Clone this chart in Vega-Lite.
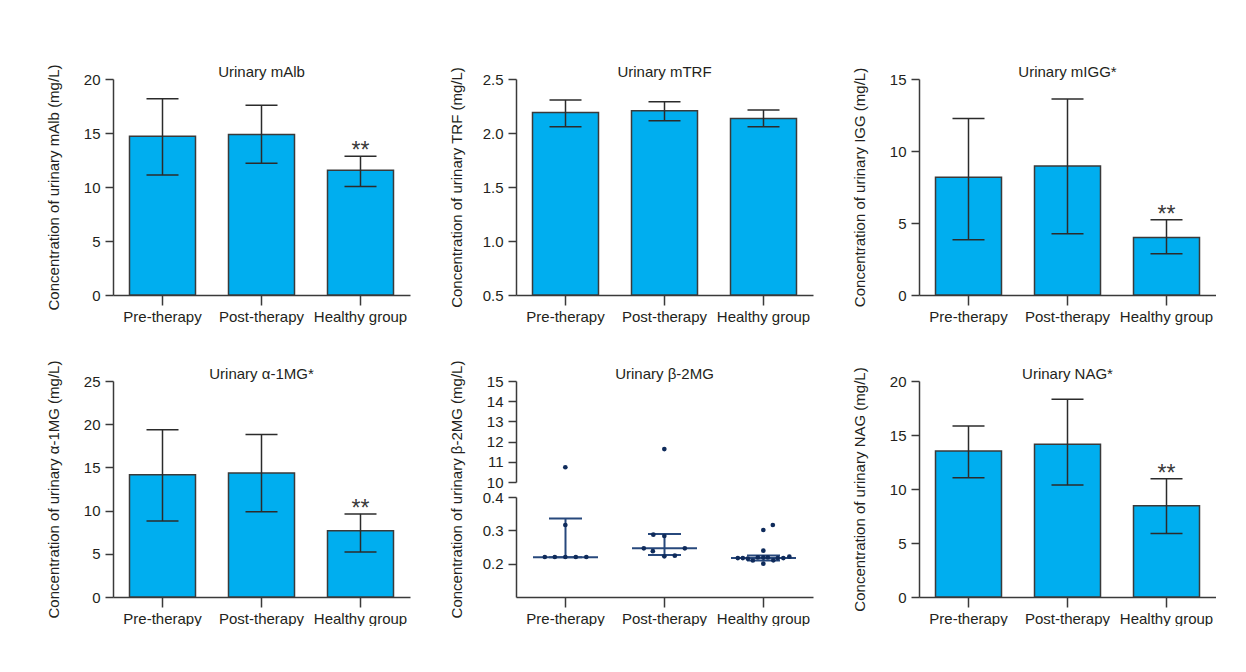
{
  "$schema": "https://vega.github.io/schema/vega-lite/v6.json",
  "padding": {"left": 45, "top": 64, "right": 0, "bottom": 0},
  "columns": 3,
  "spacing": {"row": 86, "column": 106},
  "bounds": "flush",
  "datasets": {
    "malb": [
      {"group": "Pre-therapy", "mean": 14.7, "lo": 11.1, "hi": 18.17, "sig": false},
      {"group": "Post-therapy", "mean": 14.86, "lo": 12.2, "hi": 17.58, "sig": false},
      {"group": "Healthy group", "mean": 11.56, "lo": 10.05, "hi": 12.84, "sig": true}
    ],
    "mtrf": [
      {"group": "Pre-therapy", "mean": 2.19, "lo": 2.058, "hi": 2.306, "sig": false},
      {"group": "Post-therapy", "mean": 2.206, "lo": 2.113, "hi": 2.29, "sig": false},
      {"group": "Healthy group", "mean": 2.135, "lo": 2.058, "hi": 2.213, "sig": false}
    ],
    "migg": [
      {"group": "Pre-therapy", "mean": 8.17, "lo": 3.83, "hi": 12.26, "sig": false},
      {"group": "Post-therapy", "mean": 8.96, "lo": 4.25, "hi": 13.61, "sig": false},
      {"group": "Healthy group", "mean": 3.99, "lo": 2.86, "hi": 5.23, "sig": true}
    ],
    "a1mg": [
      {"group": "Pre-therapy", "mean": 14.15, "lo": 8.8, "hi": 19.35, "sig": false},
      {"group": "Post-therapy", "mean": 14.35, "lo": 9.88, "hi": 18.8, "sig": false},
      {"group": "Healthy group", "mean": 7.67, "lo": 5.2, "hi": 9.62, "sig": true}
    ],
    "nag": [
      {"group": "Pre-therapy", "mean": 13.51, "lo": 11.04, "hi": 15.83, "sig": false},
      {"group": "Post-therapy", "mean": 14.14, "lo": 10.36, "hi": 18.31, "sig": false},
      {"group": "Healthy group", "mean": 8.44, "lo": 5.88, "hi": 10.95, "sig": true}
    ],
    "b2mg_stats": [
      {"group": "Pre-therapy", "median": 0.219, "q1": 0.219, "q3": 0.3355},
      {"group": "Post-therapy", "median": 0.2463, "q1": 0.2257, "q3": 0.289},
      {"group": "Healthy group", "median": 0.2167, "q1": 0.2098, "q3": 0.2247}
    ],
    "b2mg_points": [
      {"group": "Pre-therapy", "v": 10.73, "jitter": 0},
      {"group": "Pre-therapy", "v": 0.316, "jitter": 0},
      {"group": "Pre-therapy", "v": 0.22, "jitter": -4.1},
      {"group": "Pre-therapy", "v": 0.22, "jitter": -2.1},
      {"group": "Pre-therapy", "v": 0.22, "jitter": 0},
      {"group": "Pre-therapy", "v": 0.22, "jitter": 2.1},
      {"group": "Pre-therapy", "v": 0.22, "jitter": 4.2},
      {"group": "Post-therapy", "v": 11.63, "jitter": 0},
      {"group": "Post-therapy", "v": 0.287, "jitter": -2.2},
      {"group": "Post-therapy", "v": 0.283, "jitter": 0},
      {"group": "Post-therapy", "v": 0.246, "jitter": -4.1},
      {"group": "Post-therapy", "v": 0.2375, "jitter": -2.3},
      {"group": "Post-therapy", "v": 0.222, "jitter": 0},
      {"group": "Post-therapy", "v": 0.224, "jitter": 2.1},
      {"group": "Post-therapy", "v": 0.246, "jitter": 4.1},
      {"group": "Healthy group", "v": 0.2167, "jitter": -5.1},
      {"group": "Healthy group", "v": 0.2167, "jitter": -4.1},
      {"group": "Healthy group", "v": 0.215, "jitter": -3.1},
      {"group": "Healthy group", "v": 0.2095, "jitter": -2.1},
      {"group": "Healthy group", "v": 0.2187, "jitter": -1.1},
      {"group": "Healthy group", "v": 0.2187, "jitter": 0},
      {"group": "Healthy group", "v": 0.239, "jitter": 0},
      {"group": "Healthy group", "v": 0.2, "jitter": 0},
      {"group": "Healthy group", "v": 0.301, "jitter": 0},
      {"group": "Healthy group", "v": 0.2187, "jitter": 0.9},
      {"group": "Healthy group", "v": 0.21, "jitter": 2.0},
      {"group": "Healthy group", "v": 0.316, "jitter": 1.9},
      {"group": "Healthy group", "v": 0.2167, "jitter": 2.9},
      {"group": "Healthy group", "v": 0.2167, "jitter": 4.0},
      {"group": "Healthy group", "v": 0.221, "jitter": 5.2}
    ]
  },
  "concat": [
    {
      "width": 297, "height": 216,
      "data": {"name": "malb"},
      "encoding": {"x": {"field": "group", "type": "nominal", "scale": {"type": "band", "domain": ["Pre-therapy", "Post-therapy", "Healthy group"], "paddingInner": 0.33, "paddingOuter": 0.165}, "axis": {"title": null}}},
      "layer": [
        {"mark": {"type": "bar", "fill": "#00AEEF", "stroke": "#3a3a3a", "strokeWidth": 1.5, "size": 66},
         "encoding": {"y": {"field": "mean", "type": "quantitative", "scale": {"domain": [0, 20], "nice": false}, "axis": {"title": "Concentration of urinary mAlb (mg/L)", "values": [0, 5, 10, 15, 20]}}}},
        {"mark": {"type": "rule", "stroke": "#2b2b2b", "strokeWidth": 1.5},
         "encoding": {"y": {"field": "lo", "type": "quantitative"}, "y2": {"field": "hi"}}},
        {"mark": {"type": "tick", "color": "#2b2b2b", "thickness": 1.5, "size": 32, "opacity": 1},
         "encoding": {"y": {"field": "hi", "type": "quantitative"}}},
        {"mark": {"type": "tick", "color": "#2b2b2b", "thickness": 1.5, "size": 32, "opacity": 1},
         "encoding": {"y": {"field": "lo", "type": "quantitative"}}},
        {"transform": [{"filter": "datum.sig"}],
         "mark": {"type": "text", "text": "**", "fontSize": 23, "baseline": "alphabetic", "dy": 2, "color": "#3a3a3a"},
         "encoding": {"y": {"field": "hi", "type": "quantitative"}}},
        {"data": {"values": [{"label": "Urinary mAlb"}]},
         "mark": {"type": "text", "fontSize": 15, "baseline": "alphabetic", "dy": -2, "color": "#231f20"},
         "encoding": {"text": {"field": "label"}, "x": {"datum": "Post-therapy"}, "y": {"datum": 20}}}
      ]
    },
    {
      "width": 297, "height": 216,
      "data": {"name": "mtrf"},
      "encoding": {"x": {"field": "group", "type": "nominal", "scale": {"type": "band", "domain": ["Pre-therapy", "Post-therapy", "Healthy group"], "paddingInner": 0.33, "paddingOuter": 0.165}, "axis": {"title": null}}},
      "layer": [
        {"mark": {"type": "bar", "fill": "#00AEEF", "stroke": "#3a3a3a", "strokeWidth": 1.5, "size": 66},
         "encoding": {"y": {"field": "mean", "type": "quantitative", "scale": {"domain": [0.5, 2.5], "nice": false, "zero": false}, "axis": {"title": "Concentration of urinary TRF (mg/L)", "values": [0.5, 1.0, 1.5, 2.0, 2.5], "format": ".1f"}}, "y2": {"datum": 0.5}}},
        {"mark": {"type": "rule", "stroke": "#2b2b2b", "strokeWidth": 1.5},
         "encoding": {"y": {"field": "lo", "type": "quantitative"}, "y2": {"field": "hi"}}},
        {"mark": {"type": "tick", "color": "#2b2b2b", "thickness": 1.5, "size": 32, "opacity": 1},
         "encoding": {"y": {"field": "hi", "type": "quantitative"}}},
        {"mark": {"type": "tick", "color": "#2b2b2b", "thickness": 1.5, "size": 32, "opacity": 1},
         "encoding": {"y": {"field": "lo", "type": "quantitative"}}},
        {"data": {"values": [{"label": "Urinary mTRF"}]},
         "mark": {"type": "text", "fontSize": 15, "baseline": "alphabetic", "dy": -2, "color": "#231f20"},
         "encoding": {"text": {"field": "label"}, "x": {"datum": "Post-therapy"}, "y": {"datum": 2.5}}}
      ]
    },
    {
      "width": 297, "height": 216,
      "data": {"name": "migg"},
      "encoding": {"x": {"field": "group", "type": "nominal", "scale": {"type": "band", "domain": ["Pre-therapy", "Post-therapy", "Healthy group"], "paddingInner": 0.33, "paddingOuter": 0.165}, "axis": {"title": null}}},
      "layer": [
        {"mark": {"type": "bar", "fill": "#00AEEF", "stroke": "#3a3a3a", "strokeWidth": 1.5, "size": 66},
         "encoding": {"y": {"field": "mean", "type": "quantitative", "scale": {"domain": [0, 15], "nice": false}, "axis": {"title": "Concentration of urinary IGG (mg/L)", "values": [0, 5, 10, 15]}}}},
        {"mark": {"type": "rule", "stroke": "#2b2b2b", "strokeWidth": 1.5},
         "encoding": {"y": {"field": "lo", "type": "quantitative"}, "y2": {"field": "hi"}}},
        {"mark": {"type": "tick", "color": "#2b2b2b", "thickness": 1.5, "size": 32, "opacity": 1},
         "encoding": {"y": {"field": "hi", "type": "quantitative"}}},
        {"mark": {"type": "tick", "color": "#2b2b2b", "thickness": 1.5, "size": 32, "opacity": 1},
         "encoding": {"y": {"field": "lo", "type": "quantitative"}}},
        {"transform": [{"filter": "datum.sig"}],
         "mark": {"type": "text", "text": "**", "fontSize": 23, "baseline": "alphabetic", "dy": 2, "color": "#3a3a3a"},
         "encoding": {"y": {"field": "hi", "type": "quantitative"}}},
        {"data": {"values": [{"label": "Urinary mIGG*"}]},
         "mark": {"type": "text", "fontSize": 15, "baseline": "alphabetic", "dy": -2, "color": "#231f20"},
         "encoding": {"text": {"field": "label"}, "x": {"datum": "Post-therapy"}, "y": {"datum": 15}}}
      ]
    },
    {
      "width": 297, "height": 216,
      "data": {"name": "a1mg"},
      "encoding": {"x": {"field": "group", "type": "nominal", "scale": {"type": "band", "domain": ["Pre-therapy", "Post-therapy", "Healthy group"], "paddingInner": 0.33, "paddingOuter": 0.165}, "axis": {"title": null}}},
      "layer": [
        {"mark": {"type": "bar", "fill": "#00AEEF", "stroke": "#3a3a3a", "strokeWidth": 1.5, "size": 66},
         "encoding": {"y": {"field": "mean", "type": "quantitative", "scale": {"domain": [0, 25], "nice": false}, "axis": {"title": "Concentration of urinary α-1MG (mg/L)", "values": [0, 5, 10, 15, 20, 25]}}}},
        {"mark": {"type": "rule", "stroke": "#2b2b2b", "strokeWidth": 1.5},
         "encoding": {"y": {"field": "lo", "type": "quantitative"}, "y2": {"field": "hi"}}},
        {"mark": {"type": "tick", "color": "#2b2b2b", "thickness": 1.5, "size": 32, "opacity": 1},
         "encoding": {"y": {"field": "hi", "type": "quantitative"}}},
        {"mark": {"type": "tick", "color": "#2b2b2b", "thickness": 1.5, "size": 32, "opacity": 1},
         "encoding": {"y": {"field": "lo", "type": "quantitative"}}},
        {"transform": [{"filter": "datum.sig"}],
         "mark": {"type": "text", "text": "**", "fontSize": 23, "baseline": "alphabetic", "dy": 2, "color": "#3a3a3a"},
         "encoding": {"y": {"field": "hi", "type": "quantitative"}}},
        {"data": {"values": [{"label": "Urinary α-1MG*"}]},
         "mark": {"type": "text", "fontSize": 15, "baseline": "alphabetic", "dy": -2, "color": "#231f20"},
         "encoding": {"text": {"field": "label"}, "x": {"datum": "Post-therapy"}, "y": {"datum": 25}}}
      ]
    },
    {
      "width": 297, "height": 216,
      "encoding": {"x": {"field": "group", "type": "nominal", "scale": {"type": "band", "domain": ["Pre-therapy", "Post-therapy", "Healthy group"], "paddingInner": 0.33, "paddingOuter": 0.165}, "axis": {"title": null}}},
      "layer": [
        {"data": {"name": "b2mg_stats"},
         "mark": {"type": "tick", "color": "#27487c", "thickness": 2, "size": 65, "opacity": 1},
         "encoding": {"y": {"field": "median", "type": "quantitative",
           "scale": {"domain": [0.1, 0.4, 10, 15], "range": [216, 116, 101, 0], "nice": false, "zero": false},
           "axis": {"title": "Concentration of urinary β-2MG (mg/L)", "values": [0.2, 0.3, 0.4, 10, 11, 12, 13, 14, 15],
             "tickCount": 20,
             "labelOverlap": false,
             "labelExpr": "datum.value < 1 ? format(datum.value, '.1f') : format(datum.value, 'd')",
             "domainDash": [100, 15, 101]}}}},
        {"data": {"name": "b2mg_stats"},
         "mark": {"type": "rule", "stroke": "#27487c", "strokeWidth": 2},
         "encoding": {"y": {"field": "q1", "type": "quantitative"}, "y2": {"field": "q3"}}},
        {"data": {"name": "b2mg_stats"},
         "mark": {"type": "tick", "color": "#27487c", "thickness": 2, "size": 33, "opacity": 1},
         "encoding": {"y": {"field": "q3", "type": "quantitative"}}},
        {"data": {"name": "b2mg_stats"},
         "mark": {"type": "tick", "color": "#27487c", "thickness": 2, "size": 33, "opacity": 1},
         "encoding": {"y": {"field": "q1", "type": "quantitative"}}},
        {"data": {"name": "b2mg_points"},
         "mark": {"type": "circle", "size": 22, "color": "#0f2b5b", "opacity": 1},
         "encoding": {"y": {"field": "v", "type": "quantitative"},
           "xOffset": {"field": "jitter", "type": "quantitative", "scale": {"domain": [-5, 5], "range": [8, 58]}}}},
        {"data": {"values": [{"label": "Urinary β-2MG"}]},
         "mark": {"type": "text", "fontSize": 15, "baseline": "alphabetic", "dy": -2, "color": "#231f20"},
         "encoding": {"text": {"field": "label"}, "x": {"datum": "Post-therapy"}, "y": {"datum": 15}}}
      ]
    },
    {
      "width": 297, "height": 216,
      "data": {"name": "nag"},
      "encoding": {"x": {"field": "group", "type": "nominal", "scale": {"type": "band", "domain": ["Pre-therapy", "Post-therapy", "Healthy group"], "paddingInner": 0.33, "paddingOuter": 0.165}, "axis": {"title": null}}},
      "layer": [
        {"mark": {"type": "bar", "fill": "#00AEEF", "stroke": "#3a3a3a", "strokeWidth": 1.5, "size": 66},
         "encoding": {"y": {"field": "mean", "type": "quantitative", "scale": {"domain": [0, 20], "nice": false}, "axis": {"title": "Concentration of urinary NAG (mg/L)", "values": [0, 5, 10, 15, 20]}}}},
        {"mark": {"type": "rule", "stroke": "#2b2b2b", "strokeWidth": 1.5},
         "encoding": {"y": {"field": "lo", "type": "quantitative"}, "y2": {"field": "hi"}}},
        {"mark": {"type": "tick", "color": "#2b2b2b", "thickness": 1.5, "size": 32, "opacity": 1},
         "encoding": {"y": {"field": "hi", "type": "quantitative"}}},
        {"mark": {"type": "tick", "color": "#2b2b2b", "thickness": 1.5, "size": 32, "opacity": 1},
         "encoding": {"y": {"field": "lo", "type": "quantitative"}}},
        {"transform": [{"filter": "datum.sig"}],
         "mark": {"type": "text", "text": "**", "fontSize": 23, "baseline": "alphabetic", "dy": 2, "color": "#3a3a3a"},
         "encoding": {"y": {"field": "hi", "type": "quantitative"}}},
        {"data": {"values": [{"label": "Urinary NAG*"}]},
         "mark": {"type": "text", "fontSize": 15, "baseline": "alphabetic", "dy": -2, "color": "#231f20"},
         "encoding": {"text": {"field": "label"}, "x": {"datum": "Post-therapy"}, "y": {"datum": 20}}}
      ]
    }
  ],
  "config": {
    "font": "Liberation Sans, Arial, sans-serif",
    "view": {"stroke": null},
    "axis": {
      "grid": false,
      "domainColor": "#3a3a3a", "domainWidth": 1.5,
      "tickColor": "#3a3a3a", "tickWidth": 1.5,
      "labelFont": "Liberation Sans, Arial, sans-serif",
      "titleFont": "Liberation Sans, Arial, sans-serif",
      "labelFontSize": 15, "labelColor": "#231f20",
      "titleFontSize": 15, "titleFontWeight": "normal", "titleColor": "#231f20"
    },
    "axisX": {"tickSize": 10, "labelAngle": 0, "labelPadding": 4},
    "axisY": {"tickSize": 8, "labelPadding": 5, "minExtent": 36, "maxExtent": 36, "titlePadding": 16, "labelOverlap": false}
  }
}
